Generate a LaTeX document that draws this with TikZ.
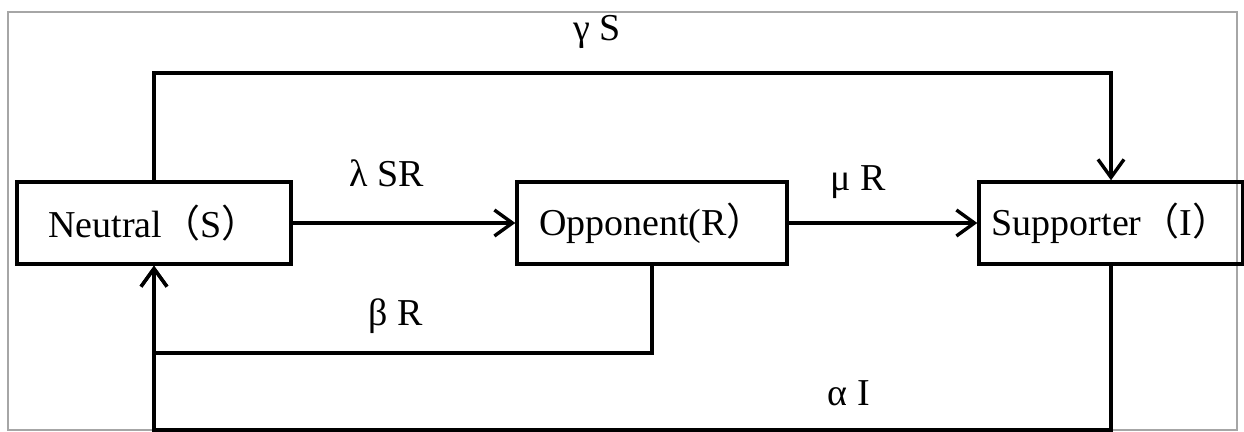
\documentclass[tikz,border=0pt]{standalone}
\usepackage{fontspec}
\setmainfont{Liberation Serif}
\newfontfamily\cjk{Noto Sans CJK SC}
\usetikzlibrary{arrows.meta}
\begin{document}
\begin{tikzpicture}[x=0.5pt,y=-0.5pt,
    font=\fontsize{19}{22}\selectfont,
    state/.style={draw,line width=1.7pt,minimum height=41pt,inner sep=0pt},
    flow/.style={line width=1.7pt,-{Straight Barb[length=9pt,width=13pt,line width=1.7pt]}},
  ]
\useasboundingbox (0,0) rectangle (1244,432);
\draw[gray!70,line width=0.7pt] (8,12) rectangle (1237,430);
\node[state,minimum width=137pt] (neutral) at (154,223) {Neutral{\cjk（}S{\cjk）}};
\node[state,minimum width=135pt] (opponent) at (652,223) {Opponent(R{\cjk）}};
\node[state,minimum width=132pt] (supporter) at (1111,223) {Supporter{\cjk（}I{\cjk）}};
\coordinate (topL) at (154,73);
\coordinate (botR) at (154,353);
\coordinate (botI) at (154,430);
\draw[flow] (neutral.north) -- (topL) -| (supporter.north);
\draw[flow] (neutral.east) -- (opponent.west);
\draw[flow] (opponent.east) -- (supporter.west);
\draw[flow] (opponent.south) |- (botR) -- (neutral.south);
\draw[flow] (supporter.south) |- (botI) -- (neutral.south);
\node (gS) at (597,32) {γ S};
\node (lSR) at (387,173) {λ SR};
\node (mR) at (858,182) {μ R};
\node (bR) at (396,316) {β R};
\node (aI) at (849,393) {α I};
\end{tikzpicture}
\end{document}
